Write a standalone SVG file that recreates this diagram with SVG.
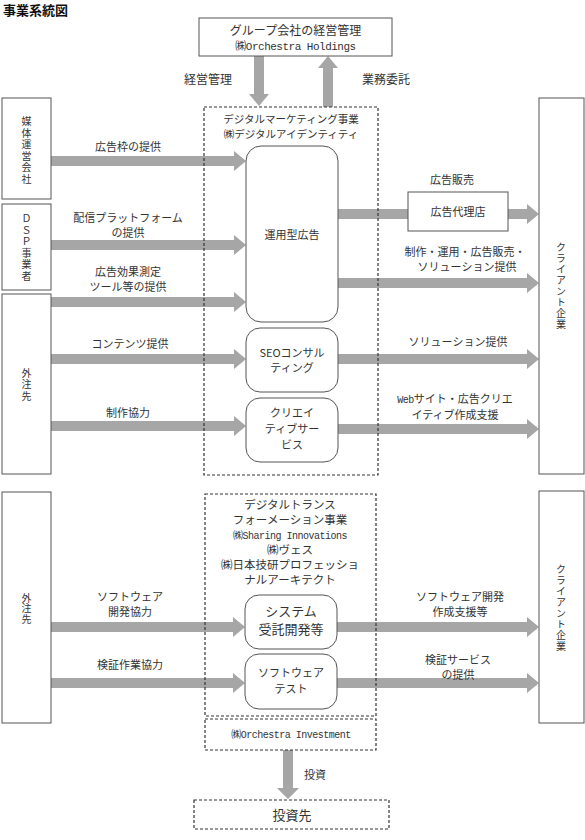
<svg xmlns="http://www.w3.org/2000/svg" width="585" height="840" viewBox="0 0 585 840">
<style>
text{font-family:"Noto Sans CJK JP","Noto Sans CJK SC",sans-serif;fill:#333;font-size:11px;text-anchor:middle}
.title{font-size:13px;font-weight:bold;text-anchor:start;fill:#111}
.en{font-family:"Liberation Mono","Noto Sans CJK JP",monospace;letter-spacing:-0.5px;font-size:10px}
.vt{writing-mode:vertical-rl;font-size:10px;letter-spacing:1.5px}
.box{fill:#fff;stroke:#555;stroke-width:1}
.node{fill:#fff;stroke:#555;stroke-width:1}
.dash{fill:none;stroke:#333;stroke-width:1.2;stroke-dasharray:3 2}
.dashw{fill:#fff;stroke:#333;stroke-width:1.2;stroke-dasharray:3 2}
.arr{fill:#a6a6a6;stroke:none}
.t12{font-size:12px}
.t115{font-size:11.5px}
.t13{font-size:13px}
.t105{font-size:10.5px}
</style>

<text class="title" x="3" y="15">事業系統図</text>

<g id="connectors">
  <!-- top -->
  <polygon class="arr" points="254,56 264,56 264,94 269,94 259,106 249,94 254,94"/>
  <polygon class="arr" points="323,107 333,107 333,68 338,68 328,56 318,68 323,68"/>
  <!-- left upper -->
  <polygon class="arr" points="51,156 234,156 234,151 246,161 234,171 234,166 51,166"/>
  <polygon class="arr" points="51,240 234,240 234,235 246,245 234,255 234,250 51,250"/>
  <polygon class="arr" points="51,297 234,297 234,292 246,302 234,312 234,307 51,307"/>
  <polygon class="arr" points="51,354 234,354 234,349 246,359 234,369 234,364 51,364"/>
  <polygon class="arr" points="51,421 234,421 234,416 246,426 234,436 234,431 51,431"/>
  <!-- left lower -->
  <polygon class="arr" points="51,622 233,622 233,617 245,627 233,637 233,632 51,632"/>
  <polygon class="arr" points="51,678 233,678 233,673 245,683 233,693 233,688 51,688"/>
  <!-- right upper -->
  <rect class="arr" x="338" y="209" width="70" height="10"/>
  <polygon class="arr" points="508,209 527,209 527,204 539,214 527,224 527,219 508,219"/>
  <polygon class="arr" points="338,278 527,278 527,273 539,283 527,293 527,288 338,288"/>
  <polygon class="arr" points="338,354 527,354 527,349 539,359 527,369 527,364 338,364"/>
  <polygon class="arr" points="338,424 527,424 527,419 539,429 527,439 527,434 338,434"/>
  <!-- right lower -->
  <polygon class="arr" points="337,622 527,622 527,617 539,627 527,637 527,632 337,632"/>
  <polygon class="arr" points="337,678 527,678 527,673 539,683 527,693 527,688 337,688"/>
  <!-- invest -->
  <polygon class="arr" points="283,750 293,750 293,788 299,788 288,799 277,788 283,788"/>
  <!-- labels -->
  <text class="t12" x="208" y="84">経営管理</text>
  <text class="t12" x="386" y="84">業務委託</text>
  <text x="128" y="151">広告枠の提供</text>
  <text x="128" y="222">配信プラットフォーム</text>
  <text x="128" y="237">の提供</text>
  <text x="128" y="276">広告効果測定</text>
  <text x="128" y="291">ツール等の提供</text>
  <text x="130" y="348">コンテンツ提供</text>
  <text x="128" y="417">制作協力</text>
  <text x="130" y="601">ソフトウェア</text>
  <text x="130" y="616">開発協力</text>
  <text x="130" y="669">検証作業協力</text>
  <text x="452" y="184">広告販売</text>
  <text x="465" y="256">制作・運用・広告販売・</text>
  <text x="467" y="271">ソリューション提供</text>
  <text x="458" y="346">ソリューション提供</text>
  <text x="455" y="403"><tspan class="en" style="font-size:10px">Web</tspan>サイト・広告クリエ</text>
  <text x="455" y="419">イティブ作成支援</text>
  <text x="460" y="601">ソフトウェア開発</text>
  <text x="460" y="616">作成支援等</text>
  <text x="458" y="664">検証サービス</text>
  <text x="458" y="679">の提供</text>
  <text x="315" y="779">投資</text>
</g>

<g id="holdings">
  <rect class="box" x="199" y="18" width="193" height="38"/>
  <text class="t12" x="295.5" y="35">グループ会社の経営管理</text>
  <text class="en" style="font-size:11px" x="295.5" y="50">㈱Orchestra Holdings</text>
</g>

<g id="media">
  <rect class="box" x="2" y="98" width="49" height="101"/>
  <text class="vt" x="26.5" y="151">媒体運営会社</text>
</g>
<g id="dsp">
  <rect class="box" x="2" y="204" width="49" height="86"/>
  <text class="vt" x="26.5" y="248">ＤＳＰ事業者</text>
</g>
<g id="outsource1">
  <rect class="box" x="2" y="294" width="49" height="180"/>
  <text class="vt" x="26.5" y="385">外注先</text>
</g>
<g id="outsource2">
  <rect class="box" x="2" y="492" width="49" height="231"/>
  <text class="vt" style="letter-spacing:0.8px" x="26.5" y="609">外注先</text>
</g>

<g id="client1">
  <rect class="box" x="539" y="98" width="45" height="376"/>
  <text class="vt" style="letter-spacing:1px" x="561" y="286">クライアント企業</text>
</g>
<g id="client2">
  <rect class="box" x="539" y="491" width="45" height="232"/>
  <text class="vt" style="letter-spacing:1px" x="561" y="608">クライアント企業</text>
</g>

<g id="agency">
  <rect class="box" x="408" y="192" width="100" height="39"/>
  <text x="458" y="216">広告代理店</text>
</g>

<g id="digital-marketing">
  <rect class="dash" x="204" y="107" width="174" height="368"/>
  <text class="t105" x="291" y="123">デジタルマーケティング事業</text>
  <text class="t105" x="291" y="138">㈱デジタルアイデンティティ</text>
</g>
<g id="ad-ops">
  <rect class="node" x="246" y="146" width="92" height="176" rx="15"/>
  <text x="292" y="239">運用型広告</text>
</g>
<g id="seo">
  <rect class="node" x="246" y="328" width="92" height="64" rx="14"/>
  <text x="292" y="357">SEOコンサル</text>
  <text x="292" y="372">ティング</text>
</g>
<g id="creative">
  <rect class="node" x="246" y="398" width="92" height="64" rx="14"/>
  <text x="292" y="417">クリエイ</text>
  <text x="292" y="433">ティブサー</text>
  <text x="292" y="449">ビス</text>
</g>

<g id="digital-transformation">
  <rect class="dash" x="205" y="494" width="171" height="222"/>
  <text class="t115" x="290" y="509">デジタルトランス</text>
  <text class="t115" x="290" y="524">フォーメーション事業</text>
  <text class="en" x="290" y="539">㈱Sharing Innovations</text>
  <text class="t115" x="290" y="554">㈱ヴェス</text>
  <text class="t115" x="290" y="569">㈱日本技研プロフェッショ</text>
  <text class="t115" x="290" y="584">ナルアーキテクト</text>
</g>
<g id="system-dev">
  <rect class="node" x="245" y="595" width="92" height="54" rx="14"/>
  <text class="t13" x="291" y="616">システム</text>
  <text class="t13" x="291" y="634">受託開発等</text>
</g>
<g id="software-test">
  <rect class="node" x="245" y="654" width="92" height="55" rx="14"/>
  <text x="291" y="677">ソフトウェア</text>
  <text x="291" y="693">テスト</text>
</g>

<g id="investment">
  <rect class="dashw" x="205" y="719" width="171" height="31"/>
  <text class="en" x="291" y="738">㈱Orchestra Investment</text>
</g>
<g id="investee">
  <rect class="dashw" x="194" y="800" width="195" height="29"/>
  <text class="t13" x="292" y="820">投資先</text>
</g>
</svg>
